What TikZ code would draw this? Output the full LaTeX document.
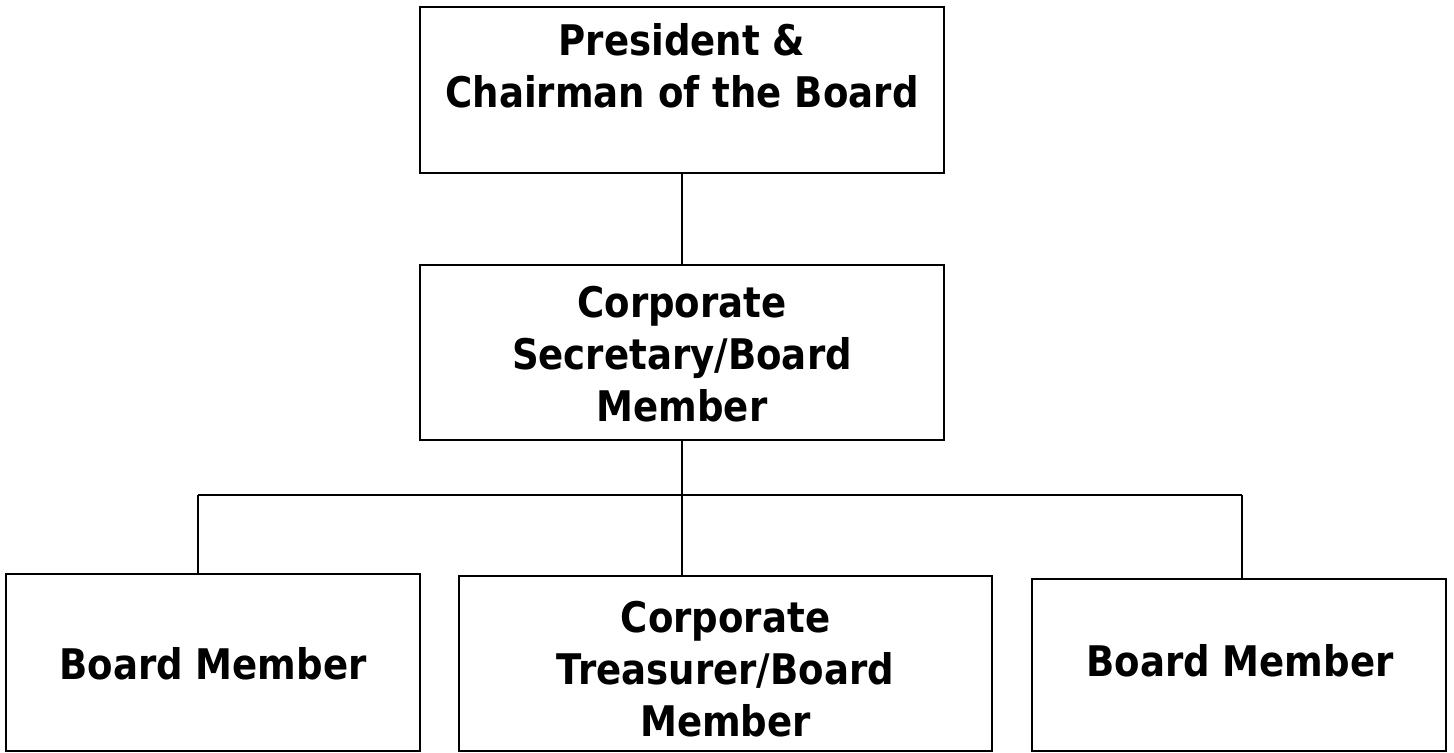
\documentclass[tikz,border=0pt]{standalone}
\usepackage{fontspec}
\setmainfont[FakeStretch=0.88]{DejaVu Sans}
\begin{document}
\begin{tikzpicture}[x=0.02cm, y=-0.02cm,
    box/.style={draw, line width=1.1pt, inner sep=0pt},
    lbl/.style={align=center, inner sep=0pt, font=\bfseries\fontsize{24}{29.6}\selectfont},
    wire/.style={line width=0.9pt}]
    \useasboundingbox (0,0) rectangle (1454,752);

    % boxes
    \node[box, minimum width=10.48cm, minimum height=3.31cm] at (682, 89.9) (pres) {};
    \node[box, minimum width=10.48cm, minimum height=3.5cm] at (682, 352.5) (secr) {};
    \node[box, minimum width=8.28cm, minimum height=3.54cm] at (213, 662.5) (bmL) {};
    \node[box, minimum width=10.66cm, minimum height=3.5cm] at (725.5, 663.5) (treas) {};
    \node[box, minimum width=8.28cm, minimum height=3.44cm] at (1239, 665) (bmR) {};

    % texts
    \node[lbl] at (682, 66) (presT) {President \&\\Chairman of the Board};
    \node[lbl] at (682, 354) (secrT) {Corporate\\Secretary/Board\\Member};
    \node[lbl] at (213, 664) (bmLT) {Board Member};
    \node[lbl] at (725.5, 669) (treasT) {Corporate\\Treasurer/Board\\Member};
    \node[lbl] at (1240, 661) (bmRT) {Board Member};

    % lines
    \coordinate (busL) at (198, 495);
    \coordinate (busR) at (1242, 495);
    \draw[wire] (pres) -- (secr);
    \draw[wire] (secr.south) -- (secr.south |- treas.north);
    \draw[wire] (busL) -- (busR);
    \draw[wire] (busL) -- (busL |- bmL.north);
    \draw[wire] (busR) -- (busR |- bmR.north);
  \end{tikzpicture}
\end{document}
